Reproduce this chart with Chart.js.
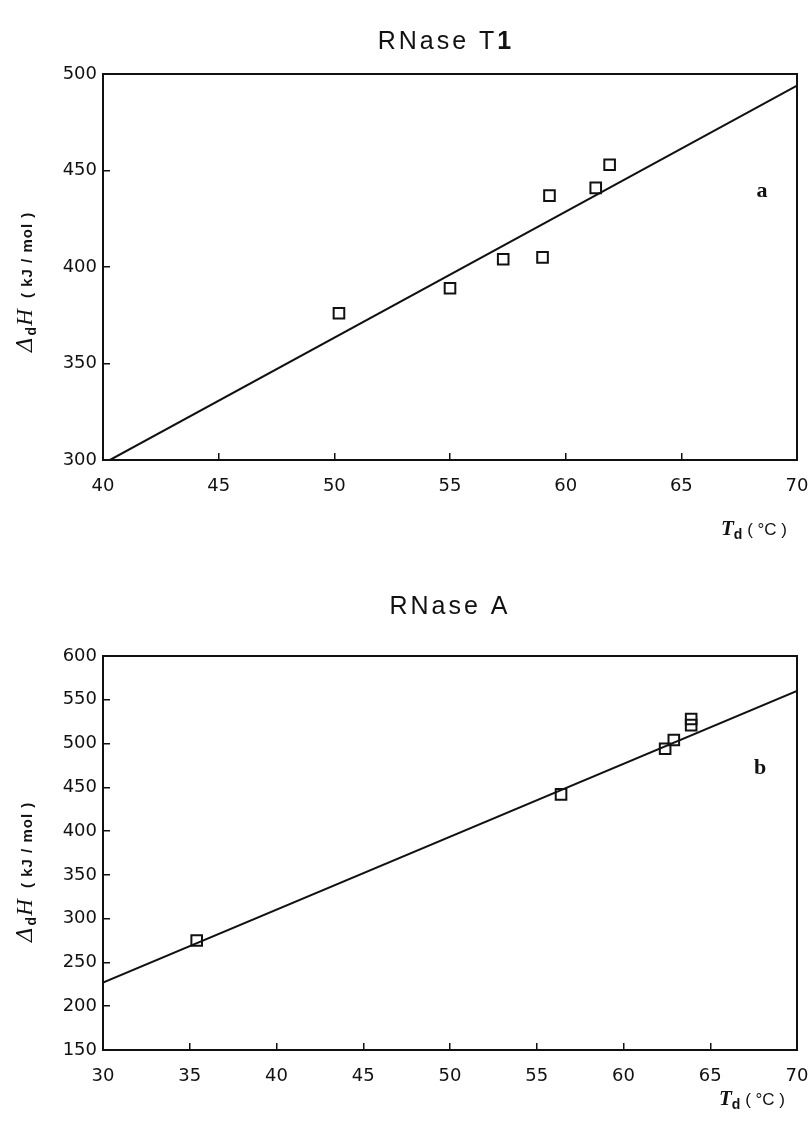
<!DOCTYPE html>
<html lang="en">
<head>
<meta charset="UTF-8">
<title>RNase T1 / RNase A</title>
<script src="https://cdn.jsdelivr.net/npm/chart.js"></script>
<style>
    body { margin: 0; background: #fff; }
    canvas { display: block; }
</style>
</head>
<body>
<canvas id="chartT1" width="812" height="560"></canvas>
<canvas id="chartA" width="812" height="565"></canvas>

<script>
// panel a: RNase T1
const t1Temp = [50.2, 55.0, 57.3, 59.0, 59.3, 61.3, 61.9];
const t1Enthalpy = [376, 389, 404, 405, 437, 441, 453];
const t1FitTemp = [40.3, 70];
const t1FitEnthalpy = [300, 494];
const t1XTicks = [40, 45, 50, 55, 60, 65, 70];
const t1YTicks = [300, 350, 400, 450, 500];

// panel b: RNase A
const aTemp = [35.4, 56.4, 62.4, 62.9, 63.9, 63.9];
const aEnthalpy = [275, 442, 494, 504, 521, 528];
const aFitTemp = [30, 70];
const aFitEnthalpy = [227, 560];
const aXTicks = [30, 35, 40, 45, 50, 55, 60, 65, 70];
const aYTicks = [150, 200, 250, 300, 350, 400, 450, 500, 550, 600];

const INK = '#111';
const SANS = '"Liberation Sans", Arial, sans-serif';
const WIDE = '"DejaVu Sans", Verdana, sans-serif';
const SERIF = '"Liberation Serif", "Times New Roman", serif';

function pts(xs, ys) {
    return xs.map((x, i) => ({ x: x, y: ys[i] }));
}

// draws a row of differently styled text pieces, centred on (x, y)
function drawRuns(ctx, runs, x, y) {
    let total = 0;
    runs.forEach(r => {
        ctx.font = r.font;
        r.w = ctx.measureText(r.t).width;
        total += r.w;
    });
    let cx = x - total / 2;
    ctx.textAlign = 'left';
    ctx.textBaseline = 'alphabetic';
    runs.forEach(r => {
        ctx.font = r.font;
        ctx.fillText(r.t, cx, y + (r.dy || 0));
        cx += r.w;
    });
}

const decor = {
    id: 'decor',
    afterDraw(chart, args, o) {
        const ctx = chart.ctx;
        const a = chart.chartArea;
        ctx.save();
        ctx.fillStyle = INK;
        ctx.strokeStyle = INK;
        ctx.lineWidth = 2;
        ctx.strokeRect(a.left, a.top, a.right - a.left, a.bottom - a.top);

        // title
        ctx.letterSpacing = '3px';
        drawRuns(ctx, o.title, o.titleX, o.titleY);
        ctx.letterSpacing = '0px';

        // panel letter
        ctx.font = 'bold 22px ' + SERIF;
        ctx.textAlign = 'center';
        ctx.fillText(o.letter, o.letterX, o.letterY);

        // x axis title
        drawRuns(ctx, [
            { t: 'T', font: 'italic bold 21px ' + SERIF },
            { t: 'd', font: 'bold 14px ' + SANS, dy: 4 },
            { t: ' ( °C )', font: '17px ' + SANS }
        ], o.xTitleX, o.xTitleY);

        // y axis title, rotated
        ctx.translate(o.yTitleX, o.yTitleY);
        ctx.rotate(-Math.PI / 2);
        ctx.letterSpacing = '1px';
        drawRuns(ctx, [
            { t: 'Δ', font: 'italic 22px "DejaVu Serif", serif' },
            { t: 'd', font: 'bold 14px ' + SANS, dy: 4 },
            { t: 'H', font: 'italic 23px ' + SERIF },
            { t: '  ( kJ / mol )', font: 'bold 15px ' + SANS }
        ], 0, 0);
        ctx.restore();
    }
};

function makeChart(id, cfg) {
    const tickFont = { family: WIDE, size: 18 };
    return new Chart(document.getElementById(id), {
        type: 'scatter',
        data: {
            datasets: [
                {
                    data: pts(cfg.xs, cfg.ys),
                    pointStyle: 'rect',
                    pointRadius: 7.5,
                    pointBorderWidth: 2,
                    pointBackgroundColor: 'rgba(255,255,255,0)',
                    pointBorderColor: INK
                },
                {
                    data: pts(cfg.fitX, cfg.fitY),
                    showLine: true,
                    borderColor: INK,
                    borderWidth: 2,
                    pointRadius: 0
                }
            ]
        },
        options: {
            responsive: false,
            devicePixelRatio: 1,
            animation: false,
            layout: { padding: { left: 0, right: 15, top: cfg.top, bottom: 0 } },
            plugins: {
                legend: { display: false },
                tooltip: { enabled: false },
                decor: cfg.decor
            },
            scales: {
                x: {
                    type: 'linear',
                    min: cfg.xTicks[0],
                    max: cfg.xTicks[cfg.xTicks.length - 1],
                    afterBuildTicks: s => { s.ticks = cfg.xTicks.map(v => ({ value: v })); },
                    afterFit: s => { s.height = cfg.xHeight; s.paddingLeft = 0; s.paddingRight = 0; },
                    border: { display: true, color: INK, width: 2 },
                    grid: { drawOnChartArea: false, drawTicks: true, tickLength: -7, color: INK, lineWidth: 1.5 },
                    ticks: { color: INK, font: tickFont, padding: 23, maxRotation: 0 }
                },
                y: {
                    type: 'linear',
                    min: cfg.yTicks[0],
                    max: cfg.yTicks[cfg.yTicks.length - 1],
                    afterBuildTicks: s => { s.ticks = cfg.yTicks.map(v => ({ value: v })); },
                    afterFit: s => { s.width = 103; s.paddingTop = 0; s.paddingBottom = 0; },
                    border: { display: true, color: INK, width: 2 },
                    grid: { drawOnChartArea: false, drawTicks: true, tickLength: -7, color: INK, lineWidth: 1.5 },
                    ticks: { color: INK, font: tickFont, padding: 13 }
                }
            }
        },
        plugins: [decor]
    });
}

makeChart('chartT1', {
    xs: t1Temp, ys: t1Enthalpy, fitX: t1FitTemp, fitY: t1FitEnthalpy,
    xTicks: t1XTicks, yTicks: t1YTicks, top: 74, xHeight: 100,
    decor: {
        title: [
            { t: 'RNase T', font: '25px ' + SANS },
            { t: '1', font: 'bold 25px ' + SANS }
        ],
        titleX: 446, titleY: 49,
        letter: 'a', letterX: 762, letterY: 197,
        xTitleX: 754, xTitleY: 535,
        yTitleX: 32, yTitleY: 282
    }
});

makeChart('chartA', {
    xs: aTemp, ys: aEnthalpy, fitX: aFitTemp, fitY: aFitEnthalpy,
    xTicks: aXTicks, yTicks: aYTicks, top: 96, xHeight: 75,
    decor: {
        title: [
            { t: 'RNase A', font: '25px ' + SANS }
        ],
        titleX: 450, titleY: 54,
        letter: 'b', letterX: 760, letterY: 214,
        xTitleX: 752, xTitleY: 545,
        yTitleX: 32, yTitleY: 312
    }
});
</script>
</body>
</html>
